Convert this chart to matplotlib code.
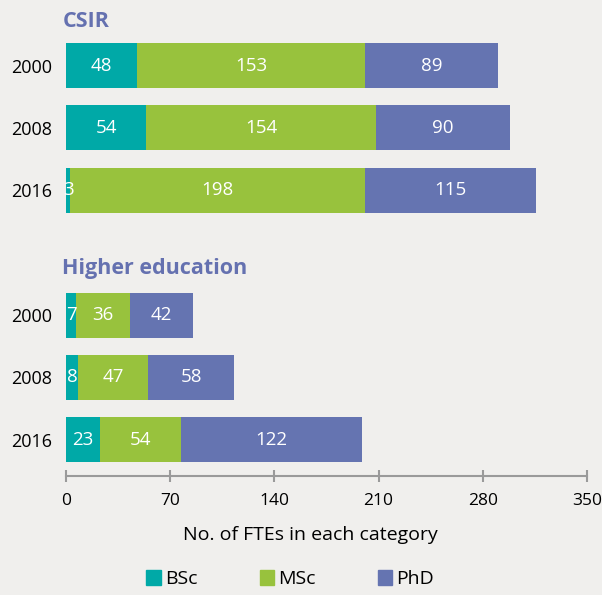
import matplotlib.pyplot as plt
from matplotlib.patches import Patch

plt.rcParams['font.family'] = ['Open Sans', 'DejaVu Sans']

years = ["2000", "2008", "2016"]
groups = ["CSIR", "Higher education"]
bsc = [48, 54, 3, 7, 8, 23]
msc = [153, 154, 198, 36, 47, 54]
phd = [89, 90, 115, 42, 58, 122]
ypos = [0, 1, 2, 4, 5, 6]

c_bsc = '#00A9A7'
c_msc = '#98C23D'
c_phd = '#6574B1'
bg = '#F0EFED'

fig = plt.figure(figsize=(6.02, 5.95), dpi=100, facecolor=bg)
ax = fig.add_axes([66 / 602, 1 - 476 / 595, 521 / 602, 476 / 595])
ax.set_facecolor(bg)

h = 0.72
left = [0] * len(ypos)
for vals, col in [(bsc, c_bsc), (msc, c_msc), (phd, c_phd)]:
    ax.barh(ypos, vals, left=left, height=h, color=col)
    for y, l, v in zip(ypos, left, vals):
        ax.text(l + v / 2, y, str(v), color='white', ha='center', va='center', fontsize=13.5)
    left = [a + b for a, b in zip(left, vals)]

ax.set_xlim(0, 350)
ax.set_ylim(6.58, -1.05)
ax.set_xticks([0, 70, 140, 210, 280, 350])
ax.set_yticks(ypos)
ax.set_yticklabels(years + years, fontsize=13)
ax.tick_params(axis='y', length=0, pad=10)
ax.tick_params(axis='x', direction='inout', length=9, width=1.5, color='#9A9A9A', labelsize=12.5, pad=8)
for s in ['top', 'right', 'left']:
    ax.spines[s].set_visible(False)
ax.spines['bottom'].set_color('#9A9A9A')
ax.spines['bottom'].set_linewidth(1.5)
ax.set_xlabel("No. of FTEs in each category", fontsize=14, labelpad=12)
ax.xaxis.set_label_coords(0.47, -0.105)

ax.text(-2.5, -0.7, groups[0], color='#6571B0', fontsize=15.5, fontweight='bold', va='center', ha='left')
ax.text(-2.5, 3.26, groups[1], color='#6571B0', fontsize=15.5, fontweight='bold', va='center', ha='left')

handles = [Patch(color=c_bsc), Patch(color=c_msc), Patch(color=c_phd)]
fig.legend(handles, ["BSc", "MSc", "PhD"], ncol=3, loc='lower center', bbox_to_anchor=(0.482, -0.018),
           frameon=False, fontsize=14, handlelength=0.75, handleheight=0.75, handletextpad=0.2, columnspacing=3.2)

fig.savefig('out.png', dpi=100, facecolor=bg)
